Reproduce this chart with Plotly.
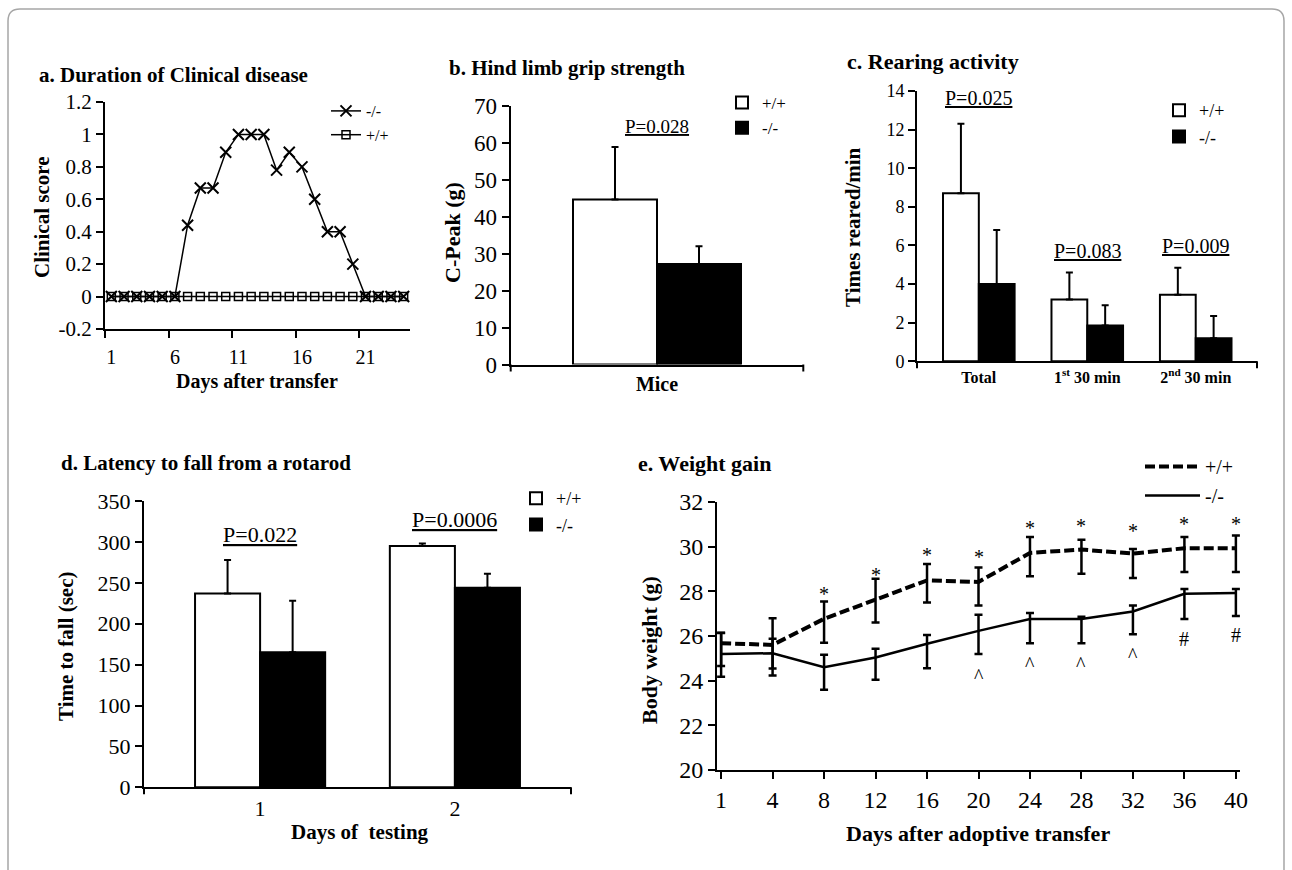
import plotly.graph_objects as go

W, H = 1292, 870
FONT = "Liberation Serif"

# ---------------- data ----------------
# a. Duration of clinical disease
a_days = [1, 2, 3, 4, 5, 6, 7, 8, 9, 10, 11, 12, 13, 14, 15, 16, 17, 18, 19, 20, 21, 22, 23, 24]
a_ko = [0, 0, 0, 0, 0, 0, 0.44, 0.67, 0.67, 0.89, 1, 1, 1, 0.78, 0.89, 0.8, 0.6, 0.4, 0.4, 0.2, 0, 0, 0, 0]
a_wt = [0, 0, 0, 0, 0, 0, 0, 0, 0, 0, 0, 0, 0, 0, 0, 0, 0, 0, 0, 0, 0, 0, 0, 0]
a_xticks = [1, 6, 11, 16, 21]
a_yticks = [-0.2, 0, 0.2, 0.4, 0.6, 0.8, 1, 1.2]
a_yticktext = ["-0.2", "0", "0.2", "0.4", "0.6", "0.8", "1", "1.2"]

# b. Hind limb grip strength
b_groups = ["Mice"]
b_wt = [44.7]
b_wt_err = [14.2]
b_ko = [27.2]
b_ko_err = [4.8]
b_p = ["P=0.028"]
b_p_y = [61.2]

# c. Rearing activity
c_groups = ["Total", "1<sup>st</sup> 30 min", "2<sup>nd</sup> 30 min"]
c_wt = [8.7, 3.2, 3.45]
c_wt_err = [3.6, 1.4, 1.4]
c_ko = [4.0, 1.85, 1.2]
c_ko_err = [2.8, 1.05, 1.15]
c_p = ["P=0.025", "P=0.083", "P=0.009"]
c_p_y = [12.98, 5.04, 5.3]

# d. Latency to fall from a rotarod
d_days = ["1", "2"]
d_wt = [237, 295]
d_wt_err = [41, 3]
d_ko = [165, 244]
d_ko_err = [63, 17]
d_p = ["P=0.022", "P=0.0006"]
d_p_y = [291, 310]

# e. Weight gain
e_days = ["1", "4", "8", "12", "16", "20", "24", "28", "32", "36", "40"]
e_wt = [25.68, 25.6, 26.77, 27.62, 28.49, 28.42, 29.72, 29.87, 29.69, 29.93, 29.93]
e_wt_up = [0.45, 1.2, 0.78, 0.94, 0.73, 0.65, 0.71, 0.44, 0.21, 0.5, 0.57]
e_wt_dn = [1.02, 1.05, 1.07, 1.02, 0.99, 1.05, 1.05, 1.08, 1.09, 1.06, 1.06]
e_ko = [25.19, 25.23, 24.6, 25.04, 25.65, 26.23, 26.76, 26.76, 27.1, 27.89, 27.92]
e_ko_up = [0.95, 0.65, 0.56, 0.39, 0.4, 0.72, 0.27, 0.1, 0.27, 0.21, 0.18]
e_ko_dn = [1.01, 1.0, 1.01, 1.0, 1.09, 1.04, 1.08, 1.08, 1.02, 1.13, 1.02]
e_star_days = ["8", "12", "16", "20", "24", "28", "32", "36", "40"]
e_star_y = [27.9, 28.72, 29.62, 29.54, 30.85, 30.94, 30.7, 31.02, 31.02]
e_caret_days = ["20", "24", "28", "32"]
e_caret_y = [24.2, 24.74, 24.74, 25.14]
e_hash_days = ["36", "40"]
e_hash_y = [25.86, 26.05]


def px(x):
    return x / W


def py(y):
    return 1 - y / H


fig = go.Figure()

# ---- panel a ----
fig.add_trace(go.Scatter(
    x=a_days, y=a_wt, name="+/+", mode="lines+markers", xaxis="x", yaxis="y",
    line=dict(color="black", width=1.5),
    marker=dict(symbol="square-open", size=8, color="black", line=dict(width=1.5, color="black")),
    legend="legend", legendrank=2, cliponaxis=False))
fig.add_trace(go.Scatter(
    x=a_days, y=a_ko, name="-/-", mode="lines+markers", xaxis="x", yaxis="y",
    line=dict(color="black", width=1.5),
    marker=dict(symbol="x-thin", size=11, color="black", line=dict(width=2, color="black")),
    legend="legend", legendrank=1, cliponaxis=False))


# ---- bar panels ----
def add_bars(cats, wt, wt_err, ko, ko_err, xa, ya, leg, width):
    fig.add_trace(go.Bar(
        x=cats, y=wt, name="+/+", xaxis=xa, yaxis=ya, legend=leg,
        offset=-width, width=width,
        marker=dict(color="white", line=dict(color="black", width=2)),
        error_y=dict(type="data", symmetric=False, array=wt_err,
                     arrayminus=[0] * len(wt), color="black", thickness=2, width=3.5)))
    fig.add_trace(go.Bar(
        x=cats, y=ko, name="-/-", xaxis=xa, yaxis=ya, legend=leg,
        offset=0, width=width,
        marker=dict(color="black", line=dict(color="black", width=2)),
        error_y=dict(type="data", symmetric=False, array=ko_err,
                     arrayminus=[0] * len(ko), color="black", thickness=2, width=3.5)))


add_bars(b_groups, b_wt, b_wt_err, b_ko, b_ko_err, "x2", "y2", "legend2", 0.287)
add_bars(c_groups, c_wt, c_wt_err, c_ko, c_ko_err, "x3", "y3", "legend3", 0.33)
add_bars(d_days, d_wt, d_wt_err, d_ko, d_ko_err, "x4", "y4", "legend4", 0.334)

# ---- panel e ----
fig.add_trace(go.Scatter(
    x=e_days, y=e_wt, name="+/+", mode="lines", xaxis="x5", yaxis="y5", legend="legend5",
    line=dict(color="black", width=4, dash="10px,4px"), cliponaxis=False,
    error_y=dict(type="data", symmetric=False, array=e_wt_up, arrayminus=e_wt_dn,
                 color="black", thickness=2.5, width=4)))
fig.add_trace(go.Scatter(
    x=e_days, y=e_ko, name="-/-", mode="lines", xaxis="x5", yaxis="y5", legend="legend5",
    line=dict(color="black", width=2.5), cliponaxis=False,
    error_y=dict(type="data", symmetric=False, array=e_ko_up, arrayminus=e_ko_dn,
                 color="black", thickness=2.5, width=4)))


def axis(domain, anchor, fsize, **kw):
    d = dict(domain=domain, anchor=anchor, showline=True, linecolor="black", linewidth=2,
             showgrid=False, zeroline=False, ticks="outside", ticklen=7, tickwidth=2,
             tickcolor="black", fixedrange=True, automargin=False,
             tickfont=dict(family=FONT, size=fsize, color="black"))
    d.update(kw)
    return d


def leg(x, y, size, **kw):
    d = dict(x=px(x), y=py(y), xanchor="left", yanchor="top",
             font=dict(family=FONT, size=size, color="black"), bgcolor="rgba(0,0,0,0)",
             tracegroupgap=0, traceorder="normal")
    d.update(kw)
    return d


layout = dict(
    template="none",
    width=W, height=H, margin=dict(l=0, r=0, t=0, b=0, pad=0, autoexpand=False),
    paper_bgcolor="white", plot_bgcolor="white", barmode="overlay",
    font=dict(family=FONT, color="black"),
    xaxis=axis([px(105), px(410)], "y", 20, range=[0.5, 24.5], tickmode="array",
               tickvals=a_xticks, ticks="", ticklabelstandoff=9,
               minor=dict(tickmode="linear", tick0=0.5, dtick=5, ticks="outside",
                          ticklen=7, tickwidth=2, tickcolor="black", showgrid=False)),
    yaxis=axis([py(329), py(102)], "x", 21, range=[-0.2, 1.2], tickmode="array",
               tickvals=a_yticks, ticktext=a_yticktext),
    xaxis2=axis([px(510.7), px(803.3)], "y2", 20, type="category", range=[-0.5, 0.5],
                ticks="", tickfont=dict(family=FONT, size=20, color="black", weight="bold")),
    yaxis2=axis([py(364.5), py(106)], "x2", 23, range=[0, 70], dtick=10),
    xaxis3=axis([px(917), px(1257)], "y3", 16, type="category", range=[-0.57, 2.565],
                ticks="", tickfont=dict(family=FONT, size=16, color="black", weight="bold")),
    yaxis3=axis([py(361.3), py(91)], "x3", 18, range=[0, 14], dtick=2),
    xaxis4=axis([px(144), px(571)], "y4", 22, type="category", range=[-0.596, 1.596],
                ticks=""),
    yaxis4=axis([py(787.3), py(501)], "x4", 22, range=[0, 350], dtick=50),
    xaxis5=axis([px(717), px(1240)], "y5", 24, type="category", range=[-0.08, 10.08]),
    yaxis5=axis([py(770), py(502)], "x5", 24, range=[20, 32], dtick=2),
    legend=leg(326, 94, 16),
    legend2=leg(722, 85, 17),
    legend3=leg(1159, 92, 18),
    legend4=leg(516, 480, 18),
    legend5=leg(1140, 447, 20, itemwidth=55),
)

ann = []


def txt(text, x, y, size, bold=True, angle=0, xanchor="center", yanchor="middle"):
    ann.append(dict(text=("<b>%s</b>" % text) if bold else text, x=px(x), y=py(y),
                    xref="paper", yref="paper", showarrow=False, textangle=angle,
                    xanchor=xanchor, yanchor=yanchor,
                    font=dict(family=FONT, size=size, color="black")))


# panel titles
txt("a. Duration of Clinical disease", 37, 75, 21, xanchor="left")
txt("b. Hind limb grip strength", 447, 68, 21, xanchor="left")
txt("c. Rearing activity", 845, 62, 22, xanchor="left")
txt("d. Latency to fall from a rotarod", 59, 463, 21, xanchor="left")
txt("e. Weight gain", 636, 463, 22, xanchor="left")

# axis titles
txt("Clinical score", 42, 217, 21, angle=-90)
txt("Days after transfer", 257, 381, 20)
txt("C-Peak (g)", 452, 233, 22, angle=-90)
txt("Times reared/min", 853, 227, 21, angle=-90)
txt("Time to fall (sec)", 66, 647, 21, angle=-90)
txt("Days of  testing", 360, 832, 21)
txt("Body weight (g)", 649, 650, 22, angle=-90)
txt("Days after adoptive transfer", 978, 833, 22)


def ptext(labels, cats, ys, xa, ya, size):
    for t, c, yv in zip(labels, cats, ys):
        ann.append(dict(text="<u>%s</u>" % t, x=cats.index(c), y=yv, xref=xa, yref=ya,
                        showarrow=False, xanchor="center", yanchor="bottom",
                        font=dict(family=FONT, size=size, color="black")))


ptext(b_p, b_groups, b_p_y, "x2", "y2", 19)
ptext(c_p, c_groups, c_p_y, "x3", "y3", 20)
ptext(d_p, d_days, d_p_y, "x4", "y4", 22)


def sym(s, days, ys):
    for dname, yv in zip(days, ys):
        ann.append(dict(text=s, x=e_days.index(dname), y=yv, xref="x5", yref="y5",
                        showarrow=False, xanchor="center", yanchor="middle",
                        font=dict(family=FONT, size=20, color="black")))


sym("*", e_star_days, e_star_y)
sym("^", e_caret_days, e_caret_y)
sym("#", e_hash_days, e_hash_y)

layout["annotations"] = ann

# end ticks on bar-chart category axes and outer frame
shapes = []
for xa, ybase in (("x2", 364.5), ("x3", 361.3), ("x4", 787.3)):
    for xd in (0, 1):
        shapes.append(dict(type="line", xref="%s domain" % xa, yref="paper",
                           x0=xd, x1=xd, y0=py(ybase), y1=py(ybase + 7),
                           line=dict(color="black", width=2)))
r = 12
L, R, T, B = px(8), px(1284), py(9), -0.05
rx, ry = r / W, r / H
shapes.append(dict(type="path", xref="paper", yref="paper",
                   path="M %f,%f L %f,%f Q %f,%f %f,%f L %f,%f Q %f,%f %f,%f L %f,%f" % (
                       L, B, L, T - ry, L, T, L + rx, T, R - rx, T, R, T, R, T - ry, R, B),
                   line=dict(color="#a6a6a6", width=1.5)))
layout["shapes"] = shapes

fig.update_layout(**layout)
fig.write_html("out.html", config={"displayModeBar": False},
               post_script="document.body.style.margin='0px';")
